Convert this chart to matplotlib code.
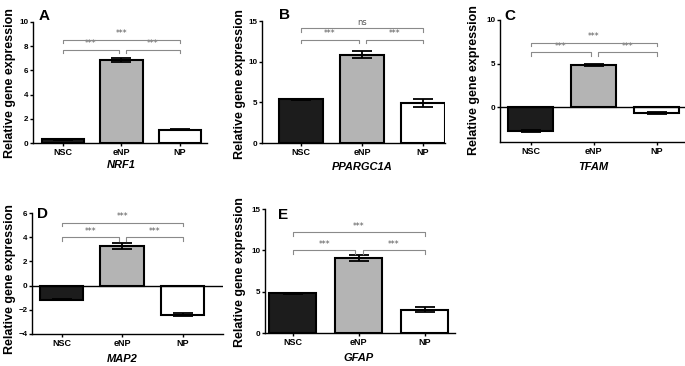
import matplotlib
matplotlib.use("Agg")
import matplotlib.pyplot as plt
import numpy as np

plt.rcParams['font.family'] = ['Liberation Sans', 'DejaVu Sans']

W, H = 685, 366

groups = ["NSC", "eNP", "NP"]
bar_colors = ["#1c1c1c", "#b4b4b4", "#ffffff"]

genes = ["NRF1", "PPARGC1A", "TFAM", "MAP2", "GFAP"]
letters = ["A", "B", "C", "D", "E"]

means = {
    "NRF1": [0.3, 6.85, 1.1],
    "PPARGC1A": [5.35, 10.85, 4.9],
    "TFAM": [-2.7, 4.85, -0.65],
    "MAP2": [-1.15, 3.3, -2.4],
    "GFAP": [4.8, 9.05, 2.8],
}
errors = {
    "NRF1": [0.05, 0.15, 0.05],
    "PPARGC1A": [0.05, 0.45, 0.5],
    "TFAM": [0.1, 0.12, 0.1],
    "MAP2": [0.05, 0.25, 0.12],
    "GFAP": [0.05, 0.4, 0.3],
}
ylims = {
    "NRF1": (0, 10),
    "PPARGC1A": (0, 15),
    "TFAM": (-4, 10),
    "MAP2": (-4, 6),
    "GFAP": (0, 15),
}
yticks = {
    "NRF1": [0, 2, 4, 6, 8, 10],
    "PPARGC1A": [0, 5, 10, 15],
    "TFAM": [0, 5, 10],
    "MAP2": [-4, -2, 0, 2, 4, 6],
    "GFAP": [0, 5, 10, 15],
}
sig_heights = {
    "NRF1": (7.7, 8.55),
    "PPARGC1A": (12.7, 14.1),
    "TFAM": (6.3, 7.4),
    "MAP2": (4.0, 5.2),
    "GFAP": (10.0, 12.2),
}
sig_labels = {
    "NRF1": ["***", "***", "***"],
    "PPARGC1A": ["***", "***", "ns"],
    "TFAM": ["***", "***", "***"],
    "MAP2": ["***", "***", "***"],
    "GFAP": ["***", "***", "***"],
}

# layout in pixels: left, top, right, bottom
boxes = {
    "NRF1": (33, 22, 207, 143),
    "PPARGC1A": (262, 21, 445, 143),
    "TFAM": (500, 20, 688, 142),
    "MAP2": (32, 213, 223, 334),
    "GFAP": (265, 209, 455, 333),
}
xlims = {
    "NRF1": (-0.51, 2.46),
    "PPARGC1A": (-0.64, 2.36),
    "TFAM": (-0.49, 2.5),
    "MAP2": (-0.49, 2.67),
    "GFAP": (-0.42, 2.46),
}
ylabel_pos = {  # pixel center
    "NRF1": (10, 83),
    "PPARGC1A": (240, 84),
    "TFAM": (474, 80),
    "MAP2": (10, 279),
    "GFAP": (240, 272),
}
letter_pos = {
    "NRF1": (39, 16),
    "PPARGC1A": (279, 15),
    "TFAM": (504, 16),
    "MAP2": (37, 214),
    "GFAP": (278, 215),
}
gene_label_y = {"NRF1": 165, "PPARGC1A": 167, "TFAM": 167, "MAP2": 359, "GFAP": 358}

fig = plt.figure(figsize=(W / 100, H / 100), dpi=100)

def fx(px):
    return px / W

def fy(py):
    return 1 - py / H

x = np.arange(3)
bw = 0.72
sig_color = "#8a8a8a"

for i, g in enumerate(genes):
    l, t, r, b = boxes[g]
    ax = fig.add_axes([fx(l), fy(b), fx(r) - fx(l), fy(t) - fy(b)])
    ax.bar(x, means[g], bw, color=bar_colors, edgecolor="black", linewidth=1.5,
           zorder=3)
    ax.errorbar(x, means[g], yerr=errors[g], fmt="none", ecolor="black",
                elinewidth=1.3, capsize=7.5, capthick=1.3, zorder=4)
    ax.set_xlim(*xlims[g])
    ax.set_ylim(*ylims[g])
    ax.set_yticks(yticks[g])
    ax.set_xticks(x)
    ax.set_xticklabels(groups, fontsize=6.5, fontweight="bold")
    for lab in ax.get_yticklabels():
        lab.set_fontsize(5.8)
        lab.set_fontweight("bold")
    ax.tick_params(axis="both", length=2.2, width=1, pad=1.2)
    for s in ["top", "right"]:
        ax.spines[s].set_visible(False)
    ax.spines["left"].set_linewidth(1)
    ax.spines["bottom"].set_linewidth(1)
    if ylims[g][0] < 0:
        ax.axhline(0, color="black", lw=1, zorder=5)
    ax.set_ylabel("Relative gene expression", fontsize=9, fontweight="bold")
    ax.yaxis.label.set_verticalalignment("center")
    ax.yaxis.label.set_horizontalalignment("center")
    lx, ly = ylabel_pos[g]
    ax.yaxis.set_label_coords(fx(lx), fy(ly), transform=fig.transFigure)

    # significance brackets
    yr = ylims[g][1] - ylims[g][0]
    drop = yr * 0.03
    hs, hl = sig_heights[g]
    labs = sig_labels[g]
    spans = [(0, 0.95, hs, labs[0]), (1.07, 2, hs, labs[1]), (0, 2, hl, labs[2])]
    for x0, x1, hh, txt in spans:
        ax.plot([x0, x0, x1, x1], [hh - drop, hh, hh, hh - drop],
                color=sig_color, lw=0.8, clip_on=False, zorder=6)
        ax.text((x0 + x1) / 2, hh + yr * 0.012, txt, ha="center", va="bottom",
                fontsize=5.5 if txt != "ns" else 6, color="#555555",
                family="DejaVu Sans")

    # panel letter
    px, py = letter_pos[g]
    fig.text(fx(px), fy(py), letters[i], fontsize=11, fontweight="bold",
             ha="left", va="center")
    # gene label centered under the middle bar
    cx = l + (x[1] - xlims[g][0]) * (r - l) / (xlims[g][1] - xlims[g][0])
    fig.text(fx(cx), fy(gene_label_y[g]), g, fontsize=8, fontweight="bold",
             style="italic", ha="center", va="center")

fig.savefig("out.png", dpi=100)
